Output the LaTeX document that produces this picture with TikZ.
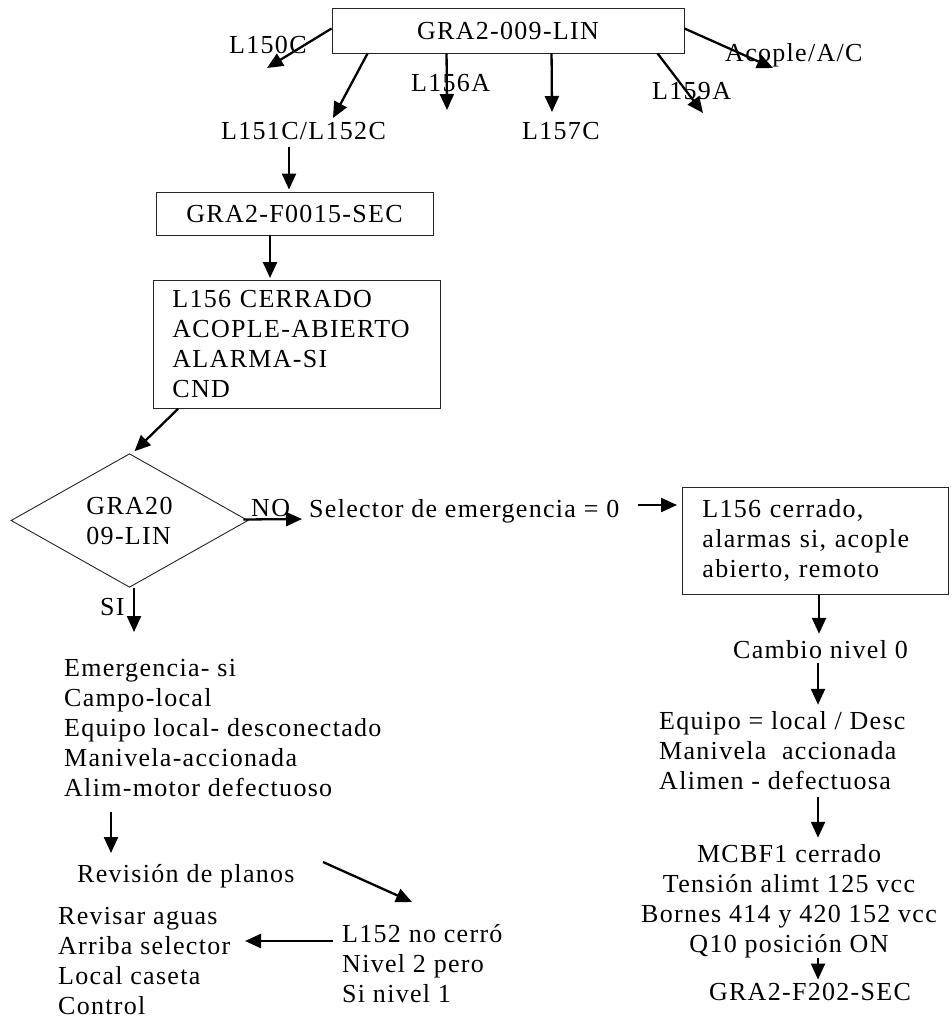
\documentclass[tikz,border=0pt]{standalone}
\usepackage{fontspec}
\setmainfont{Liberation Serif}[LetterSpace=5]
\usetikzlibrary{arrows.meta,shapes.geometric,calc}
\begin{document}
\begin{tikzpicture}[x=1pt,y=-1pt,
  every node/.style={font=\fontsize{26}{30}\selectfont, inner sep=0pt},
  txt/.style={align=left, anchor=base west},
  ctxt/.style={align=center, anchor=base},
  box/.style={draw=black!85, line width=0.9pt, align=left},
  arr/.style={line width=2.3pt, -{Triangle[length=16pt,width=14pt]}},
]
\useasboundingbox (0,0) rectangle (951,1019);

% top
\node[box, minimum width=352pt, minimum height=45pt, align=center] (top) at (508,30.5) {GRA2-009-LIN};
\node[txt] (l150) at (229,54) {L150C};
\node[txt] (l151) at (221,140) {L151C/L152C};
\node[txt] (l156) at (411,92) {L156A};
\node[txt] (l157) at (522,140) {L157C};
\node[txt] (l159) at (652,100) {L159A};
\node[txt] (acop) at (725,62) {Acople/A/C};

\coordinate (e150) at (267,68);
\coordinate (e151) at (333,118);
\coordinate (e156) at (447,110);
\coordinate (e157) at (552,112);
\coordinate (e159) at (703,113);
\coordinate (eac) at (773,68);
\draw[arr] ($(top.west)+(0,-2)$) -- (e150);
\draw[arr] ($(top.south west)+(36,0)$) -- (e151);
\draw[arr] ($(top.south west)+(115,0)$) -- (e156);
\draw[arr] ($(top.south west)+(220,0)$) -- (e157);
\draw[arr] ($(top.south west)+(326,0)$) -- (e159);
\draw[arr] ($(top.east)+(0,-2)$) -- (eac);

% left column boxes
\node[box, minimum width=277pt, minimum height=43pt, align=center] (f15) at (294.5,213.5) {GRA2-F0015-SEC};
\node[box, text width=249pt, inner xsep=19pt, inner ysep=0pt, minimum height=128pt, anchor=north west] (cnd) at (153,280) {L156 CERRADO\\ACOPLE-ABIERTO\\ALARMA-SI\\CND};
\coordinate (x151) at (289,147);
\draw[arr] (x151) -- ($(x151 |- f15.north)+(0,-2)$);
\coordinate (xf15) at (270,0);
\draw[arr] (xf15 |- f15.south) -- ($(xf15 |- cnd.north)+(0,-2)$);

\node[draw=black!85, line width=0.9pt, diamond, minimum width=237pt, minimum height=131pt, align=left] (dia) at (129.5,520.5) {GRA20\\09-LIN};
\draw[arr] ($(cnd.south west)+(25,0)$) -- ($(dia.north)+(5,-2)$);

\node[txt] (no) at (251,516) {NO};
\node[txt] (sel) at (309,517) {Selector de emergencia = 0};
\draw[arr] ($(dia.east)+(-5,-1)$) -- ($(sel.base west)+(-7,2)$);

\node[box, text width=226pt, inner xsep=20pt, inner ysep=0pt, minimum height=107pt, anchor=north west] (rbox) at (682,487) {L156 cerrado,\\alarmas si, acople\\abierto, remoto};
\coordinate (sa) at (638,505);
\draw[arr] (sa) -- ($(sa -| rbox.west)+(-5,0)$);

% left branch
\node[txt] (si) at (100,615) {SI};
\coordinate (esi) at (134,632);
\draw[arr] (dia.south -| esi) -- (esi);
\node[txt] (emer) at (64,796) {Emergencia- si\\Campo-local\\Equipo local- desconectado\\Manivela-accionada\\Alim-motor defectuoso};
\coordinate (xe) at (111,812);
\coordinate (ee) at (111,853);
\draw[arr] (xe) -- (ee);
\node[txt] (rev) at (77,882) {Revisión de planos};
\coordinate (xr) at (323,862);
\coordinate (er) at (412,902);
\draw[arr] (xr) -- (er);
\node[txt] (l152) at (342,1002) {L152 no cerró\\Nivel 2 pero\\Si nivel 1};
\node[txt] (revis) at (58,1014) {Revisar aguas\\Arriba selector\\Local caseta\\Control};
\coordinate (xl) at (333,941);
\coordinate (el) at (245,941);
\draw[arr] (xl) -- (el);

% right branch
\node[txt] (cambio) at (733,658) {Cambio nivel 0};
\coordinate (xc) at (819,0);
\draw[arr] (xc |- rbox.south) -- ($(xc |- cambio.north)+(0,-6)$);
\node[txt] (equipo) at (659,789) {Equipo = local / Desc\\Manivela\ \ accionada\\Alimen - defectuosa};
\coordinate (xq) at (818,0);
\draw[arr] ($(xq |- cambio.south)+(0,5)$) -- ($(xq |- equipo.north)+(0,-6)$);
\node[ctxt] (mcbf) at (789,952) {MCBF1 cerrado\\Tensión alimt 125 vcc\\Bornes 414 y 420 152 vcc\\Q10 posición ON};
\draw[arr] ($(xq |- equipo.south)+(0,8)$) -- ($(xq |- mcbf.north)+(0,-6)$);
\node[ctxt] (g202) at (810,1000) {GRA2-F202-SEC};
\draw[arr] (xq |- mcbf.south) -- ($(xq |- g202.north)+(0,-3)$);
\end{tikzpicture}
\end{document}
